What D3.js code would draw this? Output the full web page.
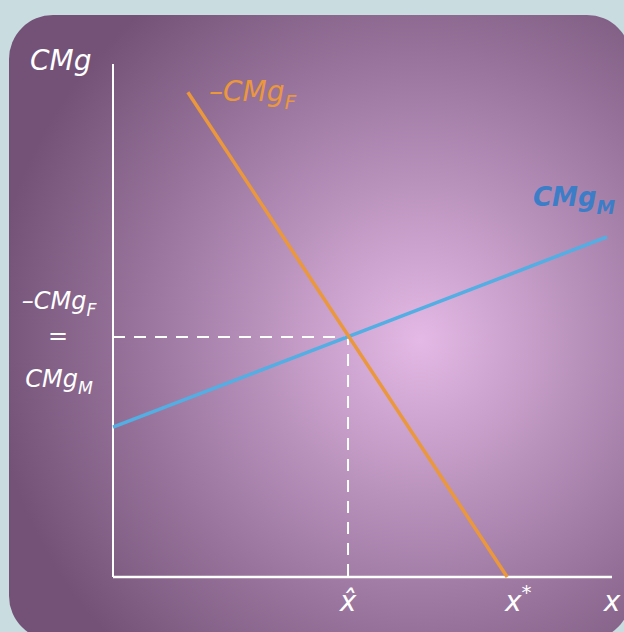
<!DOCTYPE html>
<html>
<head>
    <script src="https://cdn.jsdelivr.net/npm/d3@7"></script>
    <style>
        * { margin: 0; padding: 0; }
        body { background: #c9dce0; overflow: hidden; }
    </style>
</head>
<body>
<script>
    // curves (domain units: 0..10 on both axes)
    const cmgF = [[1.5, 9.45], [7.9, 0]]      // -CMg_F
    const cmgM = [[0, 2.92], [9.9, 6.63]]     // CMg_M
    const eq = [4.71, 4.68]                   // x hat, equilibrium
    const xTicks = [['x̂', '', 4.71], ['x', '*', 8.12], ['x', '', 10]]

    const W = 624, H = 632
    const svg = d3.select('body').append('svg').attr('width', W).attr('height', H)

    const defs = svg.append('defs')
    const grad = defs.append('radialGradient').attr('id', 'bg')
        .attr('gradientUnits', 'userSpaceOnUse')
        .attr('cx', 420).attr('cy', 340).attr('r', 430)
    grad.append('stop').attr('offset', '0%').attr('stop-color', '#e4b9e5')
    grad.append('stop').attr('offset', '55%').attr('stop-color', '#a47fa8')
    grad.append('stop').attr('offset', '100%').attr('stop-color', '#745277')

    svg.append('rect').attr('x', 9).attr('y', 15).attr('width', 622).attr('height', 625)
        .attr('rx', 44).attr('fill', 'url(#bg)')

    const x = d3.scaleLinear().domain([0, 10]).range([113, 612])
    const y = d3.scaleLinear().domain([0, 10]).range([577, 64])

    // axes
    svg.append('line').attr('x1', x(0)).attr('x2', x(0)).attr('y1', y(0)).attr('y2', y(10))
        .attr('stroke', '#fff').attr('stroke-width', 2)
    svg.append('line').attr('x1', x(0)).attr('x2', x(10)).attr('y1', y(0)).attr('y2', y(0))
        .attr('stroke', '#fff').attr('stroke-width', 2.5)

    // dashed guides
    svg.append('path')
        .attr('d', `M${x(0)},${y(eq[1])}H${x(eq[0])}V${y(0)}`)
        .attr('fill', 'none').attr('stroke', '#fff').attr('stroke-width', 2)
        .attr('stroke-dasharray', '12 9')

    const line = d3.line().x(d => x(d[0])).y(d => y(d[1]))
    svg.append('path').attr('d', line(cmgM)).attr('stroke', '#52aee3')
        .attr('stroke-width', 3.5).attr('fill', 'none')
    svg.append('path').attr('d', line(cmgF)).attr('stroke', '#eb973c')
        .attr('stroke-width', 3.5).attr('fill', 'none')

    const font = "'DejaVu Sans', sans-serif"
    function label(px, py, main, sub, color, size, anchor, weight) {
        const t = svg.append('text').attr('x', px).attr('y', py)
            .attr('fill', color).attr('font-family', font).attr('font-style', 'oblique')
            .attr('font-size', size).attr('text-anchor', anchor || 'start')
            .attr('font-weight', weight || 'normal')
        t.append('tspan').text(main)
        if (sub) t.append('tspan').attr('dy', size * 0.3).attr('font-size', size * 0.72).text(sub)
        return t
    }

    label(30, 70, 'CMg', null, '#fff', 28)
    label(209, 101, '\u2013CMg', 'F', '#eb973c', 28)
    label(533, 206, 'CMg', 'M', '#3c7dc8', 26, 'start', 'bold')

    label(59, 309, '\u2013CMg', 'F', '#fff', 24, 'middle')
    svg.append('text').attr('x', 58).attr('y', 344).attr('fill', '#fff')
        .attr('font-family', font).attr('font-size', 24).attr('text-anchor', 'middle').text('=')
    label(59, 387, 'CMg', 'M', '#fff', 24, 'middle')

    xTicks.forEach(d => {
        const t = svg.append('text').attr('x', x(d[2])).attr('y', 611).attr('fill', '#fff')
            .attr('font-family', font).attr('font-style', 'oblique').attr('font-size', 28)
            .attr('text-anchor', 'middle')
        t.append('tspan').text(d[0])
        if (d[1]) t.append('tspan').attr('dy', -12).attr('font-size', 20).text(d[1])
    })
</script>
</body>
</html>
